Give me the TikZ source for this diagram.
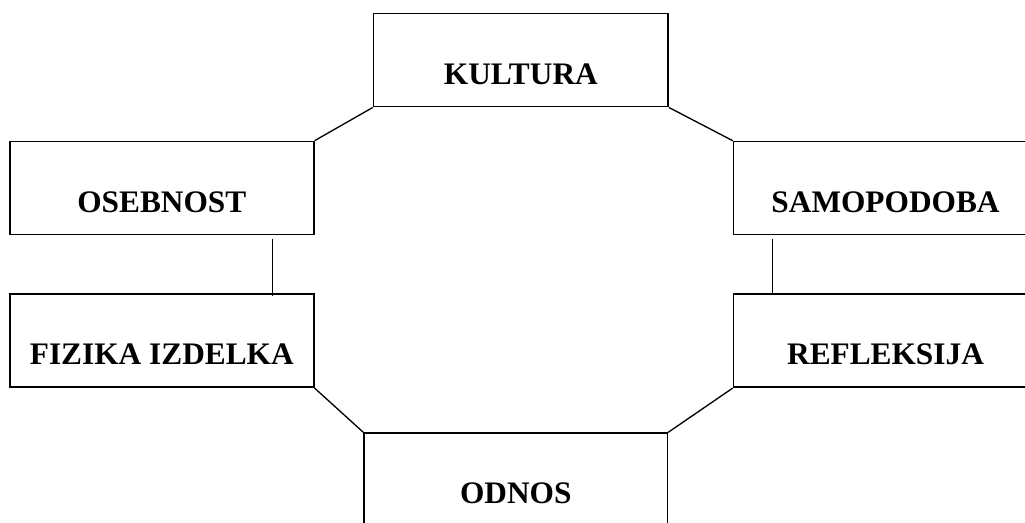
\documentclass[tikz,border=0pt]{standalone}
\usepackage{fontspec}
\setmainfont{Liberation Serif}
\begin{document}
\begin{tikzpicture}[x=0.75pt,y=-0.75pt,
  box/.style={draw, line width=1.2pt, inner sep=0pt, anchor=north west,
    minimum height=69.9pt, text height=52.9pt, text depth=17pt,
    font=\fontsize{23.5}{27}\selectfont\bfseries},
  link/.style={line width=1pt}]
\useasboundingbox (0,0) rectangle (1025,523);
\clip (0,0) rectangle (1025,523);
\node[box, minimum width=221pt] (kultura) at (372.7,12.7) {KULTURA};
\node[box, minimum width=228pt] (osebnost) at (9,140.7) {OSEBNOST};
\node[box, minimum width=228pt] (fizika) at (9,293.3) {FIZIKA IZDELKA};
\node[box, minimum width=228pt] (samopodoba) at (732.7,140.7) {SAMOPODOBA};
\node[box, minimum width=228pt] (refleksija) at (732.7,293.3) {REFLEKSIJA};
\node[box, minimum width=227.5pt] (odnos) at (363.3,432.3) {ODNOS};
\draw[link] (kultura.south west) -- (osebnost.north east);
\draw[link] (kultura.south east) -- (samopodoba.north west);
\draw[link] ([xshift=197.5pt,yshift=-2.5pt]osebnost.south west) -- ([xshift=197.5pt,yshift=-1.8pt]fizika.north west);
\draw[link] ([xshift=29.7pt,yshift=-2.5pt]samopodoba.south west) -- ([xshift=29.7pt]refleksija.north west);
\draw[link] (fizika.south east) -- (odnos.north west);
\draw[link] (refleksija.south west) -- (odnos.north east);
\end{tikzpicture}
\end{document}
